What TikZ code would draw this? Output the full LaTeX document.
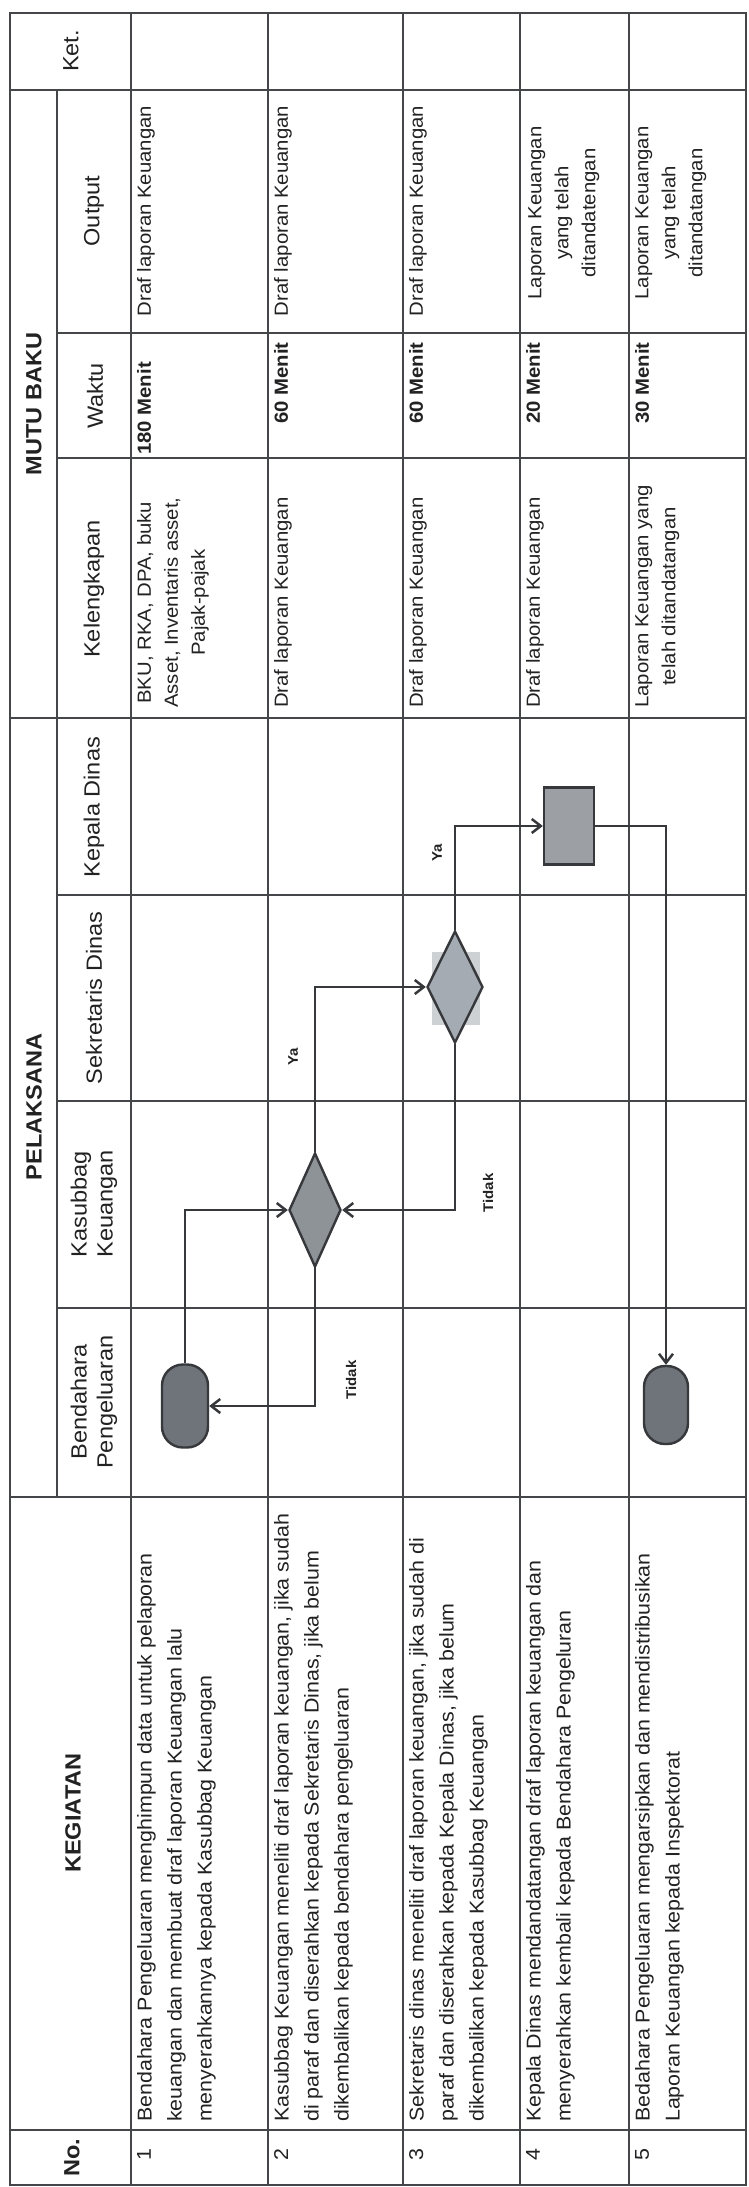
\documentclass[tikz,border=0pt]{standalone}
\usepackage{fontspec}
\setmainfont{Liberation Sans}[FakeStretch=1.07]
\usetikzlibrary{shapes.geometric,arrows.meta}
\definecolor{txt}{HTML}{222222}
\definecolor{lc}{HTML}{444649}
\definecolor{cc}{HTML}{36383C}
\definecolor{termfill}{HTML}{6F737A}
\definecolor{dfill}{HTML}{8E9398}
\definecolor{dtwofill}{HTML}{A4ABB2}
\definecolor{artfill}{HTML}{CDD1D4}
\definecolor{rfill}{HTML}{9CA0A5}
\begin{document}
\begin{tikzpicture}[x=1pt,y=-1pt,
  outerline/.style={draw=lc,line width=2.8pt},
  innerline/.style={draw=lc,line width=1.8pt},
  rot/.style={rotate=90,inner sep=0pt,text=txt},
  hdr/.style={rot,font=\fontsize{22}{26}\selectfont,align=center},
  hdrb/.style={rot,font=\bfseries\fontsize{22}{26}\selectfont,align=center},
  body/.style={rot,font=\fontsize{20}{30}\selectfont,align=left,anchor=north west},
  mb/.style={rot,font=\fontsize{19}{27}\selectfont},
  mbb/.style={rot,font=\bfseries\fontsize{19}{27}\selectfont,anchor=north west},
  lbl/.style={rot,font=\bfseries\fontsize{14}{16}\selectfont},
  term/.style={rectangle,rounded corners=21pt,draw=cc,line width=2.4pt,fill=termfill,inner sep=0pt},
  dec/.style={diamond,draw=cc,line width=2.4pt,inner sep=0pt},
  proc/.style={rectangle,draw=cc,line width=2.4pt,fill=rfill,inner sep=0pt},
  conn/.style={draw=cc,line width=2.5pt,-{Straight Barb[length=9pt,width=14pt]}}
]
\fill[white] (0,0) rectangle (748,2187);
\useasboundingbox (0,0) rectangle (748,2187);

% table grid
\draw[innerline] (10,90) -- (746,90);
\draw[innerline] (57,90) -- (57,1497);
\draw[innerline] (131,13) -- (131,2185);
\foreach \xx in {268,403,520,629} \draw[innerline] (\xx,13) -- (\xx,2185);
\foreach \yy in {333,458,895,1101,1308} \draw[innerline] (57,\yy) -- (746,\yy);
\foreach \yy in {718,1497,2130} \draw[innerline] (10,\yy) -- (746,\yy);
\draw[outerline] (10,13) rectangle (746,2185);

% headers
\node[hdr] (hKet) at (71,51) {Ket.};
\node[hdrb] (hMB) at (34,404) {MUTU BAKU};
\node[hdrb] (hPL) at (34,1107) {PELAKSANA};
\node[hdr] (hOut) at (94,211) {Output};
\node[hdr] (hWak) at (95,396) {Waktu};
\node[hdr] (hKel) at (94,589) {Kelengkapan};
\node[hdr] (hKD) at (94,807) {Kepala Dinas};
\node[hdr] (hSD) at (94,998) {Sekretaris Dinas};
\node[hdr] (hKK) at (94,1204) {Kasubbag\\Keuangan};
\node[hdr] (hBP) at (94,1402) {Bendahara\\Pengeluaran};
\node[hdrb] (hKeg) at (73,1813) {KEGIATAN};
\node[hdrb] (hNo) at (72,2158) {No.};

% numbers
\node[body] (n1) at (137,2161) {1};
\node[body] (n2) at (274,2161) {2};
\node[body] (n3) at (409,2161) {3};
\node[body] (n4) at (526,2161) {4};
\node[body] (n5) at (635,2161) {5};

% kegiatan
\node[body] (k1) at (137,2122) {Bendahara Pengeluaran menghimpun data untuk pelaporan\\keuangan dan membuat draf laporan Keuangan lalu\\menyerahkannya kepada Kasubbag Keuangan};
\node[body] (k2) at (274,2122) {Kasubbag Keuangan meneliti draf laporan keuangan, jika sudah\\di paraf dan diserahkan kepada Sekretaris Dinas, jika belum\\dikembalikan kepada bendahara pengeluaran};
\node[body] (k3) at (409,2122) {Sekretaris dinas meneliti draf laporan keuangan, jika sudah di\\paraf dan diserahkan kepada Kepala Dinas, jika belum\\dikembalikan kepada Kasubbag Keuangan};
\node[body] (k4) at (526,2122) {Kepala Dinas mendandatangan draf laporan keuangan dan\\menyerahkan kembali kepada Bendahara Pengeluran};
\node[body] (k5) at (635,2122) {Bedahara Pengeluaran mengarsipkan dan mendistribusikan\\Laporan Keuangan kepada Inspektorat};

% kelengkapan
\node[mb,anchor=north west,align=center] (l1) at (137,708) {BKU, RKA, DPA, buku\\Asset, Inventaris asset,\\Pajak-pajak};
\node[mb,anchor=north west] (l2) at (274,708) {Draf laporan Keuangan};
\node[mb,anchor=north west] (l3) at (409,708) {Draf laporan Keuangan};
\node[mb,anchor=north west] (l4) at (526,708) {Draf laporan Keuangan};
\node[mb,anchor=north west,align=center] (l5) at (635,708) {Laporan Keuangan yang\\telah ditandatangan};

% waktu
\node[mbb] (w1) at (137,455) {180 Menit};
\node[mbb] (w2) at (274,424) {60 Menit};
\node[mbb] (w3) at (409,424) {60 Menit};
\node[mbb] (w4) at (526,424) {20 Menit};
\node[mbb] (w5) at (635,424) {30 Menit};

% output
\node[mb,anchor=north,align=center] (o1) at (137,211) {Draf laporan Keuangan};
\node[mb,anchor=north,align=center] (o2) at (274,211) {Draf laporan Keuangan};
\node[mb,anchor=north,align=center] (o3) at (409,211) {Draf laporan Keuangan};
\node[mb,anchor=north,align=center] (o4) at (528,213) {Laporan Keuangan\\yang telah\\ditandatengan};
\node[mb,anchor=north,align=center] (o5) at (635,213) {Laporan Keuangan\\yang telah\\ditandatangan};

% flowchart
\node[term,minimum width=46pt,minimum height=83pt] (t1) at (185,1406) {};
\node[term,minimum width=44pt,minimum height=78pt] (t2) at (666,1405) {};
\node[dec,fill=dfill,minimum width=52pt,minimum height=114pt] (d1) at (315,1210) {};
\fill[artfill] (432,952) rectangle (480,1025);
\node[dec,fill=dtwofill,minimum width=56pt,minimum height=112pt] (d2) at (455,987) {};
\node[proc,minimum width=50pt,minimum height=77pt] (r1) at (569,826) {};

\draw[conn] (t1.north) |- (d1.west);
\draw[conn] (d1.north) |- (d2.west);
\draw[conn] (d2.north) |- (r1.west);
\draw[conn] (d2.south) |- (d1.east);
\draw[conn] (d1.south) |- (t1.east);
\draw[conn] (r1.east) -| (t2.north);

\node[lbl] (ya1) at (293,1057) {Ya};
\node[lbl] (ya2) at (437,853) {Ya};
\node[lbl] (td1) at (488,1193) {Tidak};
\node[lbl] (td2) at (351,1380) {Tidak};
\end{tikzpicture}
\end{document}
